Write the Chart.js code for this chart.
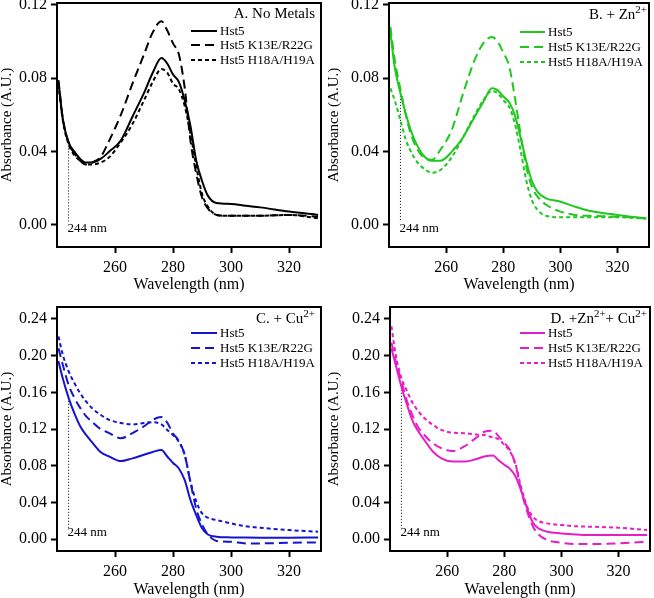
<!DOCTYPE html>
<html>
<head>
<meta charset="utf-8">
<script src="https://cdn.jsdelivr.net/npm/chart.js@4.4.1/dist/chart.umd.min.js"></script>
<style>
	body { margin: 0; background: #fff; }
	#wrap { position: relative; width: 654px; height: 598px; }
	canvas { position: absolute; }
</style>
</head>
<body>
<div id="wrap">
	<canvas id="panelA" width="327" height="299" style="left:0;top:0"></canvas>
	<canvas id="panelB" width="327" height="299" style="left:327px;top:0"></canvas>
	<canvas id="panelC" width="327" height="299" style="left:0;top:299px"></canvas>
	<canvas id="panelD" width="327" height="299" style="left:327px;top:299px"></canvas>
</div>
<script>
/* Values (absorbance vs wavelength in nm). */
const wavelengths = [240.5, 242, 244, 246, 248, 250, 252, 255, 258, 262, 266, 270, 273, 276, 278, 280, 282, 284, 286, 288, 290, 292, 295, 300, 305, 310, 320, 330];
const seriesNames = ['Hst5', 'Hst5 K13E/R22G', 'Hst5 H18A/H19A'];

// A. No metals
const noMetalHst5 = [0.078, 0.058, 0.045, 0.040, 0.036, 0.034, 0.034, 0.036, 0.040, 0.046, 0.059, 0.072, 0.083, 0.091, 0.088, 0.082, 0.078, 0.068, 0.054, 0.035, 0.024, 0.016, 0.012, 0.0115, 0.0105, 0.0096, 0.0073, 0.0055];
const noMetalK13E = [0.079, 0.058, 0.045, 0.039, 0.035, 0.033, 0.034, 0.037, 0.046, 0.060, 0.077, 0.093, 0.105, 0.111, 0.106, 0.099, 0.093, 0.075, 0.046, 0.028, 0.015, 0.009, 0.0055, 0.005, 0.005, 0.005, 0.0055, 0.0045];
const noMetalH18A = [0.077, 0.057, 0.044, 0.038, 0.035, 0.033, 0.033, 0.034, 0.037, 0.045, 0.055, 0.068, 0.078, 0.085, 0.083, 0.077, 0.074, 0.065, 0.050, 0.032, 0.017, 0.010, 0.0055, 0.005, 0.005, 0.005, 0.0055, 0.0036];

// B. + Zn2+
const znHst5 = [0.105, 0.086, 0.072, 0.060, 0.050, 0.043, 0.038, 0.035, 0.035, 0.040, 0.048, 0.059, 0.067, 0.0745, 0.0735, 0.070, 0.067, 0.060, 0.048, 0.035, 0.024, 0.018, 0.0145, 0.0127, 0.010, 0.0078, 0.0055, 0.0036];
const znK13E = [0.108, 0.090, 0.074, 0.059, 0.048, 0.041, 0.037, 0.0355, 0.041, 0.052, 0.072, 0.090, 0.099, 0.1025, 0.100, 0.094, 0.087, 0.070, 0.050, 0.032, 0.021, 0.0155, 0.011, 0.0073, 0.0055, 0.005, 0.0045, 0.0036];
const znH18A = [0.0745, 0.068, 0.057, 0.046, 0.039, 0.034, 0.031, 0.0285, 0.030, 0.037, 0.048, 0.060, 0.068, 0.073, 0.072, 0.068, 0.0645, 0.0555, 0.041, 0.0245, 0.0136, 0.0082, 0.005, 0.0042, 0.0042, 0.0042, 0.0042, 0.0036];

// C. + Cu2+
const cuHst5 = [0.194, 0.175, 0.154, 0.137, 0.123, 0.1135, 0.106, 0.095, 0.090, 0.085, 0.088, 0.092, 0.095, 0.097, 0.090, 0.083, 0.077, 0.0645, 0.0426, 0.026, 0.0117, 0.005, 0.0025, 0.0018, 0.0016, 0.0015, 0.0015, 0.0018];
const cuK13E = [0.208, 0.190, 0.168, 0.154, 0.143, 0.134, 0.128, 0.120, 0.1155, 0.110, 0.1155, 0.123, 0.130, 0.133, 0.127, 0.115, 0.107, 0.092, 0.062, 0.033, 0.016, 0.005, -0.002, -0.003, -0.0047, -0.0047, -0.004, -0.0036];
const cuH18A = [0.221, 0.201, 0.183, 0.170, 0.159, 0.150, 0.143, 0.1355, 0.130, 0.1265, 0.125, 0.1265, 0.1275, 0.125, 0.119, 0.1135, 0.106, 0.092, 0.0626, 0.041, 0.028, 0.0233, 0.0208, 0.0171, 0.014, 0.0124, 0.0098, 0.008];

// D. + Zn2+ + Cu2+
const znCuHst5 = [0.208, 0.190, 0.166, 0.146, 0.128, 0.117, 0.108, 0.0955, 0.088, 0.0845, 0.0845, 0.087, 0.090, 0.091, 0.086, 0.081, 0.0765, 0.068, 0.0517, 0.0335, 0.018, 0.0117, 0.008, 0.0062, 0.005, 0.0044, 0.0044, 0.0044];
const znCuK13E = [0.214, 0.194, 0.172, 0.150, 0.134, 0.121, 0.1135, 0.1045, 0.099, 0.096, 0.101, 0.110, 0.117, 0.118, 0.112, 0.105, 0.097, 0.080, 0.052, 0.030, 0.014, 0.005, -0.001, -0.004, -0.0055, -0.0055, -0.0047, -0.003];
const znCuH18A = [0.232, 0.201, 0.1755, 0.161, 0.148, 0.139, 0.132, 0.1245, 0.119, 0.116, 0.1155, 0.114, 0.1135, 0.1107, 0.109, 0.1027, 0.0954, 0.081, 0.0553, 0.0353, 0.0244, 0.0197, 0.0171, 0.0153, 0.014, 0.0135, 0.0124, 0.0098];

// Ticks and the 244 nm marker
const xTicks = [260, 280, 300, 320];
const yTicksLow = [0, 0.04, 0.08, 0.12];
const yTicksHigh = [0, 0.04, 0.08, 0.12, 0.16, 0.20, 0.24];
const markerWavelength = 244;
const markerLabel = '244 nm';

/* Drawing settings */
const serif = "'Liberation Serif', 'DejaVu Serif', serif";
const dashes = [[], [9, 5], [4, 3]];

const panels = [
	{
		id: 'panelA', color: '#000000', values: [noMetalHst5, noMetalK13E, noMetalH18A],
		yMin: -0.012, yMax: 0.121, yTicks: yTicksLow, markerLow: 0.002,
		title: [['A. No Metals', false]],
		area: { left: 57, right: 321, top: 3, bottom: 247 }, xTitlePad: 5,
		legend: { x1: 191, x2: 217, tx: 220, rows: [31, 45, 60], titleY: 18, titleRight: 315 },
	},
	{
		id: 'panelB', color: '#1ec81e', values: [znHst5, znK13E, znH18A],
		yMin: -0.012, yMax: 0.121, yTicks: yTicksLow, markerLow: 0.002,
		title: [['B. + Zn', false], ['2+', true]],
		area: { left: 62, right: 322, top: 3, bottom: 247 }, xTitlePad: 5,
		legend: { x1: 193, x2: 218, tx: 221, rows: [32, 47, 62], titleY: 19, titleRight: 320 },
	},
	{
		id: 'panelC', color: '#1414d2', values: [cuHst5, cuK13E, cuH18A],
		yMin: -0.013, yMax: 0.253, yTicks: yTicksHigh, markerLow: 0.012,
		title: [['C. + Cu', false], ['2+', true]],
		area: { left: 57, right: 321, top: 8, bottom: 252 }, xTitlePad: -1,
		legend: { x1: 191, x2: 217, tx: 220, rows: [34, 49, 64], titleY: 24, titleRight: 315 },
	},
	{
		id: 'panelD', color: '#e61ec8', values: [znCuHst5, znCuK13E, znCuH18A],
		yMin: -0.013, yMax: 0.253, yTicks: yTicksHigh, markerLow: 0.012,
		title: [['D. +Zn', false], ['2+', true], ['+ Cu', false], ['2+', true]],
		area: { left: 63, right: 323, top: 8, bottom: 252 }, xTitlePad: -1,
		legend: { x1: 193, x2: 218, tx: 221, rows: [34, 49, 64], titleY: 24, titleRight: 320 },
	},
];

/* Frame, panel title, legend and the 244 nm label. */
const decorPlugin = {
	id: 'decor',
	afterDraw(chart, args, opts) {
		const p = opts.panel;
		const { ctx, chartArea: a, scales } = chart;
		ctx.save();
		ctx.strokeStyle = '#000';
		ctx.lineWidth = 2;
		ctx.setLineDash([]);
		ctx.strokeRect(a.left, a.top, a.right - a.left, a.bottom - a.top);

		ctx.fillStyle = '#000';
		ctx.textAlign = 'left';
		ctx.textBaseline = 'middle';
		ctx.font = '13px ' + serif;
		ctx.fillText(markerLabel, scales.x.getPixelForValue(markerWavelength) - 1, a.bottom - 18);

		// title, right aligned, with superscripts
		const big = '15px ' + serif;
		const small = '11px ' + serif;
		let total = 0;
		p.title.forEach(([t, sup]) => {
			ctx.font = sup ? small : big;
			total += ctx.measureText(t).width;
		});
		let x = p.legend.titleRight - total;
		ctx.textBaseline = 'alphabetic';
		p.title.forEach(([t, sup]) => {
			ctx.font = sup ? small : big;
			ctx.fillText(t, x, sup ? p.legend.titleY - 6 : p.legend.titleY);
			x += ctx.measureText(t).width;
		});

		// legend
		ctx.textBaseline = 'middle';
		ctx.font = '13px ' + serif;
		seriesNames.forEach((name, i) => {
			const y = p.legend.rows[i];
			ctx.strokeStyle = p.color;
			ctx.lineWidth = 2;
			ctx.setLineDash(dashes[i]);
			ctx.beginPath();
			ctx.moveTo(p.legend.x1, y);
			ctx.lineTo(p.legend.x2, y);
			ctx.stroke();
			ctx.fillStyle = '#000';
			ctx.fillText(name, p.legend.tx, y + 1);
		});
		ctx.restore();
	},
};

panels.forEach((p) => {
	const datasets = p.values.map((vals, i) => ({
		label: seriesNames[i],
		data: wavelengths.map((w, j) => ({ x: w, y: vals[j] })),
		borderColor: p.color,
		borderWidth: 2,
		borderDash: dashes[i],
		pointRadius: 0,
		cubicInterpolationMode: 'monotone',
		fill: false,
	}));
	// dotted drop line at 244 nm, from the Hst5 curve down
	datasets.push({
		label: markerLabel,
		data: [
			{ x: markerWavelength, y: p.values[0][wavelengths.indexOf(markerWavelength)] },
			{ x: markerWavelength, y: p.markerLow },
		],
		borderColor: '#000',
		borderWidth: 1,
		borderDash: [1, 2],
		pointRadius: 0,
	});

	const tickFont = { family: serif, size: 16 };
	new Chart(document.getElementById(p.id).getContext('2d'), {
		type: 'line',
		data: { datasets: datasets },
		plugins: [decorPlugin],
		options: {
			responsive: false,
			animation: false,
			devicePixelRatio: 1,
			layout: { padding: { left: 0, top: p.area.top, right: 327 - p.area.right, bottom: 0 } },
			scales: {
				x: {
					type: 'linear',
					min: 240,
					max: 331,
					afterBuildTicks: (s) => { s.ticks = xTicks.map((v) => ({ value: v })); },
					afterFit: (s) => { s.height = 299 - p.area.bottom; s.paddingLeft = 0; s.paddingRight = 0; },
					ticks: { color: '#000', font: tickFont, padding: 5, maxRotation: 0 },
					grid: { drawOnChartArea: false, drawTicks: true, tickLength: 6, tickWidth: 2, tickColor: '#000' },
					border: { display: false },
					title: { display: true, text: 'Wavelength (nm)', color: '#000', font: { family: serif, size: 16 }, padding: { top: 0, bottom: p.xTitlePad } },
				},
				y: {
					type: 'linear',
					min: p.yMin,
					max: p.yMax,
					afterBuildTicks: (s) => { s.ticks = p.yTicks.map((v) => ({ value: v })); },
					afterFit: (s) => { s.width = p.area.left; s.paddingTop = 0; s.paddingBottom = 0; },
					ticks: { color: '#000', font: tickFont, padding: 4, callback: (v) => Number(v).toFixed(2) },
					grid: { drawOnChartArea: false, drawTicks: true, tickLength: 6, tickWidth: 2, tickColor: '#000' },
					border: { display: false },
					title: { display: true, text: 'Absorbance (A.U.)', color: '#000', font: { family: serif, size: 15 }, padding: { top: -2, bottom: 0 } },
				},
			},
			plugins: {
				legend: { display: false },
				tooltip: { enabled: false },
				decor: { panel: p },
			},
		},
	});
});
</script>
</body>
</html>
